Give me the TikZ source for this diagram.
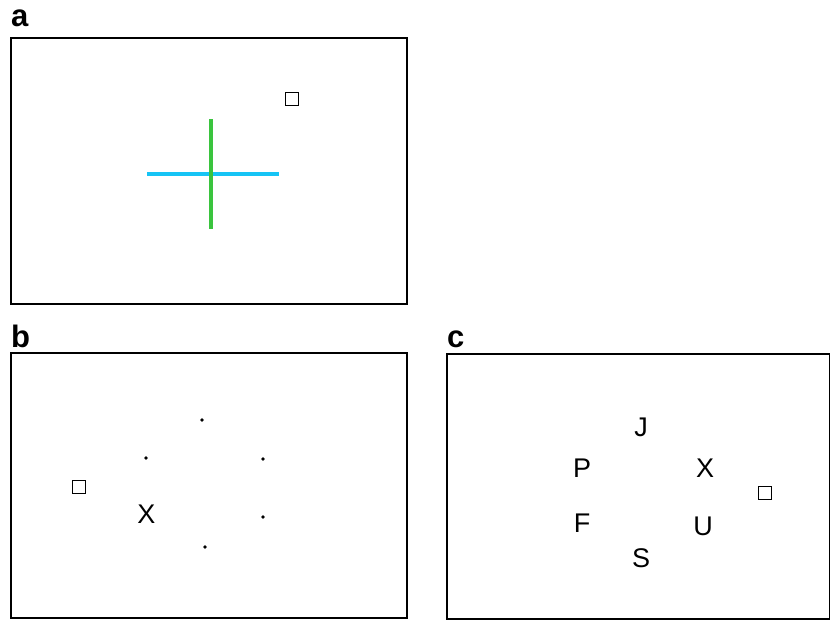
\documentclass[tikz,border=0pt]{standalone}
\usepackage{fontspec}
\setmainfont{Liberation Sans}
\usepackage{tikz}
\usetikzlibrary{positioning}
\definecolor{crossgreen}{RGB}{58,196,62}
\definecolor{crosscyan}{RGB}{22,196,245}
\tikzset{
  panel/.style={draw,line width=1.5pt},
  probe/.style={draw,line width=1.8pt,minimum size=13pt,inner sep=0pt},
  dotmark/.style={circle,fill,inner sep=0pt,minimum size=3.8pt},
  letter/.style={inner sep=0pt,font=\fontsize{27}{32}\selectfont},
  tag/.style={inner sep=0pt,anchor=base west,font=\fontsize{31}{36}\selectfont\bfseries}
}
\begin{document}
\begin{tikzpicture}[x=1pt,y=-1pt]
\useasboundingbox[fill=white] (0,0) rectangle (830,621);
% panel a
\node[tag] (taga) at (11,26) {a};
\draw[panel] (11,38) rectangle (407,304);
\coordinate (hl) at (147,174);
\coordinate (hr) at (279,174);
\coordinate (vt) at (211,119);
\coordinate (vb) at (211,229);
\draw[crosscyan,line width=3.2pt] (hl) -- (hr);
\draw[crossgreen,line width=3.2pt] (vt) -- (vb);
\node[probe] (proba) at (292,99) {};
% panel b
\node[tag] (tagb) at (11,347) {b};
\draw[panel] (11,353) rectangle (407,618);
\node[dotmark] (d1) at (202,420) {};
\node[dotmark] (d2) at (146,458) {};
\node[dotmark] (d3) at (263,459) {};
\node[dotmark] (d4) at (263,517) {};
\node[dotmark] (d5) at (205,547) {};
\node[letter] (xb) at (146.5,514.5) {X};
\node[probe] (probb) at (79,487) {};
% panel c
\node[tag] (tagc) at (447,347) {c};
\draw[panel] (447,354) rectangle (829.3,619);
\node[letter] (lj) at (641,427) {J};
\node[letter] (lp) at (582,468) {P};
\node[letter] (lx) at (705,468) {X};
\node[letter] (lf) at (582,523.5) {F};
\node[letter] (lu) at (703,526.5) {U};
\node[letter] (ls) at (641,558.5) {S};
\node[probe] (probc) at (765,493) {};
\end{tikzpicture}
\end{document}
